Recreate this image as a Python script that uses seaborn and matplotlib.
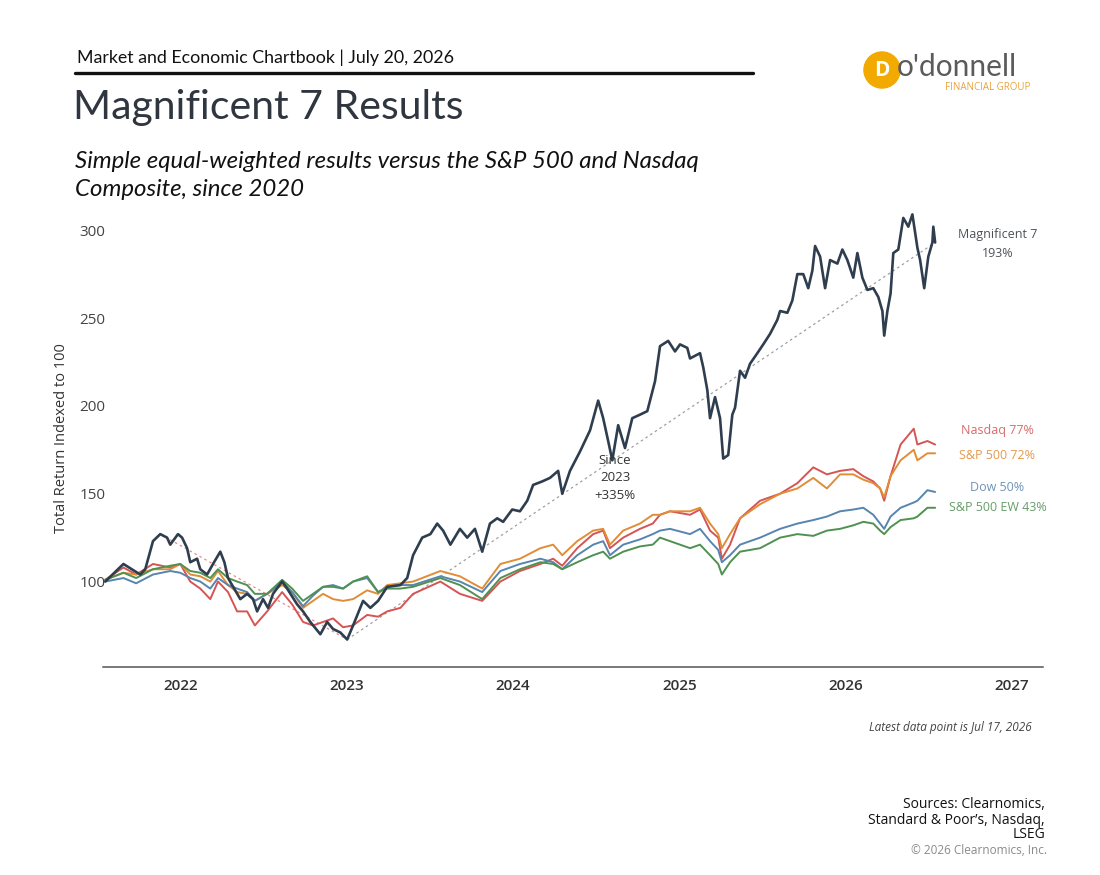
import pandas as pd
import matplotlib
matplotlib.use("Agg")
import matplotlib.pyplot as plt
import matplotlib.dates as mdates
from matplotlib.patches import Circle
import seaborn as sns

# ==============================================
# DATOS
# ==============================================
MAG7_DATES = [
    "2021-07-18", "2021-08-27", "2021-10-03", "2021-10-14", "2021-10-31", "2021-11-16",
    "2021-12-01", "2021-12-08", "2021-12-25", "2022-01-03", "2022-01-14", "2022-01-21",
    "2022-02-05", "2022-02-12", "2022-02-27", "2022-03-12", "2022-03-28", "2022-04-06",
    "2022-04-14", "2022-05-11", "2022-05-26", "2022-06-08", "2022-06-17", "2022-06-30",
    "2022-07-11", "2022-07-22", "2022-08-11", "2022-08-22", "2022-09-13", "2022-09-26",
    "2022-10-12", "2022-11-03", "2022-11-18", "2022-12-01", "2022-12-17", "2023-01-01",
    "2023-01-14", "2023-02-05", "2023-02-21", "2023-03-10", "2023-03-30", "2023-04-28",
    "2023-05-13", "2023-05-26", "2023-06-15", "2023-07-03", "2023-07-18", "2023-07-31",
    "2023-08-16", "2023-09-06", "2023-09-22", "2023-10-09", "2023-10-25", "2023-11-11",
    "2023-11-27", "2023-12-10", "2023-12-30", "2024-01-16", "2024-02-01", "2024-02-14",
    "2024-03-05", "2024-03-22", "2024-04-09", "2024-04-18", "2024-05-05", "2024-05-27",
    "2024-06-18", "2024-07-06", "2024-07-17", "2024-07-28", "2024-08-06", "2024-08-19",
    "2024-09-03", "2024-09-19", "2024-10-06", "2024-10-22", "2024-10-28", "2024-11-08",
    "2024-11-19", "2024-12-07", "2024-12-22", "2025-01-02", "2025-01-18", "2025-01-24",
    "2025-02-15", "2025-02-22", "2025-03-03", "2025-03-09", "2025-03-20", "2025-03-31",
    "2025-04-07", "2025-04-18", "2025-04-27", "2025-05-03", "2025-05-14", "2025-05-25",
    "2025-06-05", "2025-06-21", "2025-07-04", "2025-07-19", "2025-08-04", "2025-08-10",
    "2025-08-26", "2025-09-06", "2025-09-17", "2025-09-30", "2025-10-11", "2025-10-20",
    "2025-10-26", "2025-11-06", "2025-11-17", "2025-11-28", "2025-12-14", "2025-12-25",
    "2026-01-05", "2026-01-18", "2026-01-27", "2026-02-07", "2026-02-18", "2026-03-03",
    "2026-03-14", "2026-03-23", "2026-03-27", "2026-04-03", "2026-04-10", "2026-04-16",
    "2026-04-27", "2026-05-08", "2026-05-19", "2026-05-28", "2026-06-08", "2026-06-14",
    "2026-06-23", "2026-07-02", "2026-07-11", "2026-07-13", "2026-07-17",
]
MAG7_VALUES = [
    100, 110, 104, 107, 123, 127,
    125, 121, 127, 125, 119, 111,
    113, 107, 104, 110, 117, 111,
    102, 90, 93, 90, 83, 90,
    85, 93, 100, 96, 87, 83,
    77, 70, 77, 73, 71, 67,
    75, 89, 85, 89, 97, 98,
    102, 115, 125, 127, 133, 129,
    121, 130, 125, 130, 117, 133,
    136, 134, 141, 140, 146, 155,
    157, 159, 163, 150, 163, 174,
    186, 203, 193, 180, 169, 189,
    176, 193, 195, 197, 203, 214,
    234, 237, 231, 235, 233, 227,
    230, 222, 209, 193, 205, 193,
    170, 172, 195, 199, 220, 216,
    224, 230, 235, 241, 249, 254,
    253, 260, 275, 275, 267, 277,
    291, 285, 267, 283, 281, 289,
    283, 273, 287, 273, 266, 267,
    262, 254, 240, 254, 264, 287,
    289, 307, 302, 309, 290, 283,
    267, 285, 293, 302, 293,
]

INDEX_DATES = [
    "2021-07-18", "2021-08-27", "2021-09-24", "2021-10-31", "2021-12-08", "2021-12-30",
    "2022-01-21", "2022-02-12", "2022-03-06", "2022-03-23", "2022-04-14", "2022-05-04",
    "2022-05-26", "2022-06-12", "2022-07-09", "2022-08-11", "2022-09-02", "2022-09-26",
    "2022-10-18", "2022-11-09", "2022-12-01", "2022-12-23", "2023-01-14", "2023-02-14",
    "2023-03-10", "2023-03-30", "2023-04-28", "2023-05-26", "2023-07-25", "2023-09-06",
    "2023-10-25", "2023-12-04", "2024-01-16", "2024-03-01", "2024-03-29", "2024-04-18",
    "2024-05-21", "2024-06-25", "2024-07-17", "2024-08-01", "2024-08-30", "2024-10-06",
    "2024-11-03", "2024-11-19", "2024-12-11", "2025-01-24", "2025-02-15", "2025-03-09",
    "2025-03-27", "2025-04-04", "2025-04-22", "2025-05-14", "2025-06-27", "2025-08-10",
    "2025-09-17", "2025-10-22", "2025-11-21", "2025-12-20", "2026-01-18", "2026-02-09",
    "2026-03-03", "2026-03-18", "2026-03-27", "2026-04-10", "2026-05-02", "2026-05-31",
    "2026-06-08", "2026-06-30", "2026-07-17",
]
NASDAQ = [
    101, 108, 104, 110, 108, 110,
    100, 96, 90, 100, 94, 83,
    83, 75, 83, 94, 87, 77,
    75, 77, 79, 74, 75, 81,
    80, 83, 85, 93, 100, 93,
    89, 100, 106, 110, 113, 109,
    119, 127, 129, 119, 125, 130,
    133, 138, 140, 138, 141, 129,
    125, 113, 121, 136, 146, 150,
    156, 165, 161, 163, 164, 160,
    157, 153, 146, 160, 178, 187,
    178, 180, 178,
]
SP500 = [
    101, 105, 104, 107, 107, 110,
    104, 103, 100, 106, 98, 94,
    93, 89, 93, 98, 94, 85,
    89, 93, 90, 89, 90, 95,
    93, 98, 99, 100, 106, 103,
    96, 110, 113, 119, 121, 115,
    123, 129, 130, 121, 129, 133,
    138, 138, 140, 140, 142, 133,
    127, 119, 127, 136, 144, 150,
    153, 159, 153, 161, 161, 158,
    156, 153, 148, 160, 169, 175,
    169, 173, 173,
]
DOW = [
    100, 102, 99, 104, 106, 105,
    102, 100, 96, 102, 98, 96,
    94, 89, 93, 100, 94, 86,
    92, 97, 98, 96, 100, 102,
    94, 97, 98, 98, 103, 100,
    94, 106, 110, 113, 111, 107,
    115, 121, 123, 115, 121, 124,
    127, 129, 130, 127, 130, 123,
    118, 111, 115, 121, 125, 130,
    133, 135, 137, 140, 141, 142,
    138, 133, 130, 137, 142, 145,
    146, 152, 151,
]
SP500_EW = [
    101, 105, 102, 107, 109, 110,
    106, 105, 102, 107, 102, 100,
    98, 93, 93, 101, 96, 89,
    93, 97, 97, 96, 100, 103,
    94, 96, 96, 97, 102, 98,
    90, 102, 107, 111, 110, 107,
    111, 115, 117, 113, 117, 120,
    121, 125, 123, 119, 121, 115,
    110, 104, 111, 117, 119, 125,
    127, 126, 129, 130, 132, 134,
    133, 129, 127, 131, 135, 136,
    137, 142, 142,
]

INDEX_NAMES = ["Nasdaq", "S&P 500", "Dow", "S&P 500 EW"]
INDEX_LABELS = ["Nasdaq 77%", "S&P 500 72%", "Dow 50%", "S&P 500 EW 43%"]
LABEL_Y = [186, 172, 153.5, 142]
MAG7_LABEL = "Magnificent 7\n193%"

# colores
COL_MAG7 = "#2f3e4e"
COL_LINES = ["#d65454", "#e08d36", "#5685b0", "#4f9150"]
COL_LABELS = ["#d96a6a", "#e39a4e", "#6e93b8", "#679d68"]

# ==============================================
# ESTILO
# ==============================================
sns.set_style("white")
plt.rcParams["font.family"] = ["Open Sans", "DejaVu Sans"]

fig = plt.figure(figsize=(11, 8.75), dpi=100)
ax = fig.add_axes([0.0936, 0.238, 0.8545, 0.523])

# ==============================================
# SERIES
# ==============================================
df_idx = pd.DataFrame({"fecha": pd.to_datetime(INDEX_DATES)})
for nombre, serie in zip(INDEX_NAMES, [NASDAQ, SP500, DOW, SP500_EW]):
    df_idx[nombre] = serie
df_long = df_idx.melt(id_vars="fecha", var_name="indice", value_name="valor")

df_mag = pd.DataFrame({"fecha": pd.to_datetime(MAG7_DATES), "valor": MAG7_VALUES})

# lineas punteadas: pico 2021-22 -> minimo -> ultimo dato
i_min = df_mag["valor"].idxmin()
i_pico = df_mag.loc[:i_min, "valor"].idxmax()
ax.plot(df_mag.loc[[i_pico, i_min], "fecha"], df_mag.loc[[i_pico, i_min], "valor"],
        ls=(0, (2, 2.5)), color="#e08a8a", lw=0.9, zorder=1)
ax.plot(df_mag.loc[[i_min, len(df_mag) - 1], "fecha"],
        df_mag.loc[[i_min, len(df_mag) - 1], "valor"],
        ls=(0, (2, 2.5)), color="#9aa0a6", lw=0.9, zorder=1)

sns.lineplot(data=df_long, x="fecha", y="valor", hue="indice", hue_order=INDEX_NAMES,
             palette=COL_LINES, linewidth=1.4, legend=False, ax=ax, zorder=2)
sns.lineplot(data=df_mag, x="fecha", y="valor", color=COL_MAG7, linewidth=1.9,
             legend=False, ax=ax, zorder=3)

# ==============================================
# EJES
# ==============================================
ax.set_xlim(pd.Timestamp("2021-07-13"), pd.Timestamp("2027-03-11"))
ax.set_ylim(51.5, 312)
ax.set_yticks([100, 150, 200, 250, 300])
ax.xaxis.set_major_locator(mdates.YearLocator())
ax.xaxis.set_major_formatter(mdates.DateFormatter("%Y"))
ax.tick_params(axis="x", length=0, pad=9, labelsize=11, labelcolor="#333333")
ax.tick_params(axis="y", length=0, pad=-2, labelsize=11, labelcolor="#444444")
for lab in ax.get_xticklabels():
    lab.set_fontweight("semibold")
for s in ["top", "right", "left"]:
    ax.spines[s].set_visible(False)
ax.spines["bottom"].set_color("#555555")
ax.spines["bottom"].set_linewidth(1.1)
ax.set_xlabel("")
ax.set_ylabel("Total Return Indexed to 100", fontsize=10.5, color="#333333", labelpad=8)

# etiquetas finales
x_lab = pd.Timestamp("2026-12-01")
ax.text(x_lab, 292, MAG7_LABEL, ha="center", va="center", fontsize=9,
        color="#4d5258", linespacing=1.6)
for txt, yv, col in zip(INDEX_LABELS, LABEL_Y, COL_LABELS):
    ax.text(x_lab, yv, txt, ha="center", va="center", fontsize=9, color=col)

ax.text(pd.Timestamp("2024-08-12"), 159, "Since\n2023\n+335%", ha="center", va="center",
        fontsize=9.5, color="#333333", linespacing=1.45, zorder=4)

# ==============================================
# ENCABEZADO Y PIE
# ==============================================
fig.text(77 / 1100, 1 - 58 / 875, "Market and Economic Chartbook | July 20, 2026",
         fontsize=12.8, color="#111111", va="center", ha="left", family=["Lato", "DejaVu Sans"])
fig.add_artist(plt.Line2D([75 / 1100, 753 / 1100], [1 - 73 / 875, 1 - 73 / 875],
                          color="#111111", lw=2.4))
fig.text(73 / 1100, 1 - 108 / 875, "Magnificent 7 Results", fontsize=29.5, color="#2f3640",
         va="center", ha="left", family=["Lato", "DejaVu Sans"])
fig.text(75 / 1100, 1 - 161 / 875, "Simple equal-weighted results versus the S&P 500 and Nasdaq",
         fontsize=17.3, style="italic", color="#111111", va="center", ha="left",
         family=["Lato", "DejaVu Sans"])
fig.text(75 / 1100, 1 - 189 / 875, "Composite, since 2020",
         fontsize=17.3, style="italic", color="#111111", va="center", ha="left",
         family=["Lato", "DejaVu Sans"])

# logo
ax_logo = fig.add_axes([863 / 1100, 1 - 89 / 875, 38 / 1100, 38 / 875])
ax_logo.set_xlim(-1, 1)
ax_logo.set_ylim(-1, 1)
ax_logo.set_aspect("equal")
ax_logo.axis("off")
ax_logo.add_patch(Circle((0, 0), 0.95, color="#f2a900"))
ax_logo.text(0, -0.02, "D", ha="center", va="center", fontsize=15, fontweight="bold",
             color="white")
fig.text(897 / 1100, 1 - 67 / 875, "o'donnell", fontsize=21.5, color="#5b5b5b",
         va="center", ha="left", family=["Lato", "DejaVu Sans"])
fig.text(1030 / 1100, 1 - 88 / 875, "FINANCIAL GROUP", fontsize=7, color="#e8a33d",
         va="center", ha="right")

fig.text(1032 / 1100, 1 - 728 / 875, "Latest data point is Jul 17, 2026", fontsize=8.5,
         style="italic", color="#444444", ha="right", va="center")
fig.text(1045 / 1100, 1 - 820 / 875, "Sources: Clearnomics,\nStandard & Poor\u2019s, Nasdaq,\nLSEG",
         fontsize=10, color="#111111", ha="right", va="center", linespacing=1.0)
fig.text(1047 / 1100, 1 - 850 / 875, "\u00a9 2026 Clearnomics, Inc.", fontsize=8.5,
         color="#8a8a8a", ha="right", va="center")

fig.savefig("out.png", dpi=100)
